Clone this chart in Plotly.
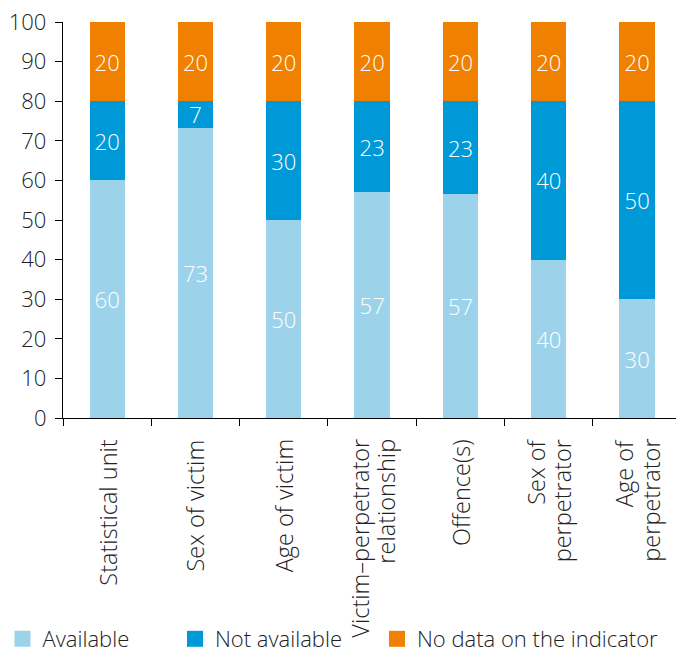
import plotly.graph_objects as go

categories = ["Statistical unit", "Sex of victim", "Age of victim",
              "Victim\u2013perpetrator<br>relationship", "Offence(s)",
              "Sex of<br>perpetrator", "Age of<br>perpetrator"]
available = [60, 73.3, 50, 57.1, 56.6, 40, 30]
not_available = [20, 6.7, 30, 22.9, 23.4, 40, 50]
no_data = [20, 20, 20, 20, 20, 20, 20]

series = [
    ("Available", available, "#9dd3ea", "legend"),
    ("Not available", not_available, "#0099d8", "legend2"),
    ("No data on the indicator", no_data, "#f08000", "legend3"),
]

FONT = "Open Sans"
FS = 22
XFS = 23.5
TXT = "#222222"
fig = go.Figure()
for name, vals, color, lg in series:
    fig.add_trace(go.Bar(
        x=categories, y=vals, name=name, marker=dict(color=color, line=dict(width=0)),
        width=0.4, text=[f"{v:.0f}" for v in vals], textposition="inside",
        insidetextanchor="middle", textangle=0,
        textfont=dict(color="white", size=FS, family=FONT, weight=300),
        showlegend=False, cliponaxis=False,
    ))
    fig.add_trace(go.Scatter(
        x=[None], y=[None], mode="markers", name=name, legend=lg,
        marker=dict(symbol="square", size=16, color=color), showlegend=True,
    ))

# category labels: one rotated text per line, tighter line spacing than Plotly's default
LINE_GAP = 26
for cat in categories:
    lines = cat.split("<br>")
    n = len(lines)
    for i, line in enumerate(lines):
        fig.add_annotation(
            x=cat, xref="x", y=0, yref="paper", yanchor="top", xanchor="center",
            text=line, textangle=-90, showarrow=False,
            xshift=(i - (n - 1) / 2) * LINE_GAP, yshift=-19,
            font=dict(size=XFS, family=FONT, color=TXT, weight=300),
        )

W, H = 676, 654
L, R, T, B = 63, 0, 22, 236

leg_common = dict(orientation="h", yanchor="top", xanchor="left",
                  xref="container", yref="container",
                  font=dict(size=22, family=FONT, color=TXT, weight=300),
                  bgcolor="rgba(0,0,0,0)", borderwidth=0)
LEG_Y = 1 - 618 / H

fig.update_layout(
    barmode="stack",
    width=W, height=H,
    margin=dict(l=L, r=R, t=T, b=B, autoexpand=False),
    plot_bgcolor="white", paper_bgcolor="white",
    font=dict(family=FONT, size=FS, color=TXT, weight=300),
    uniformtext=dict(minsize=FS, mode="show"),
    legend=dict(x=2.5 / W, y=LEG_Y, **leg_common),
    legend2=dict(x=175 / W, y=LEG_Y, **leg_common),
    legend3=dict(x=377 / W, y=LEG_Y, **leg_common),
    xaxis=dict(
        range=[-0.5, 6.44], showline=True, linecolor="black", linewidth=1.3,
        ticks="outside", tickson="boundaries", ticklen=7, tickcolor="black",
        showticklabels=False,
        showgrid=False, zeroline=False, automargin=False,
    ),
    yaxis=dict(
        range=[0, 100], dtick=10, showline=True, linecolor="black", linewidth=1.3,
        ticks="outside", ticklen=7, tickcolor="black", ticklabelstandoff=4,
        tickfont=dict(size=FS, family=FONT, color=TXT, weight=300),
        showgrid=False, zeroline=False, automargin=False,
    ),
)

fig.write_html("out.html", config={"displayModeBar": False},
               post_script="document.body.style.margin='0';document.body.style.overflow='hidden';")
